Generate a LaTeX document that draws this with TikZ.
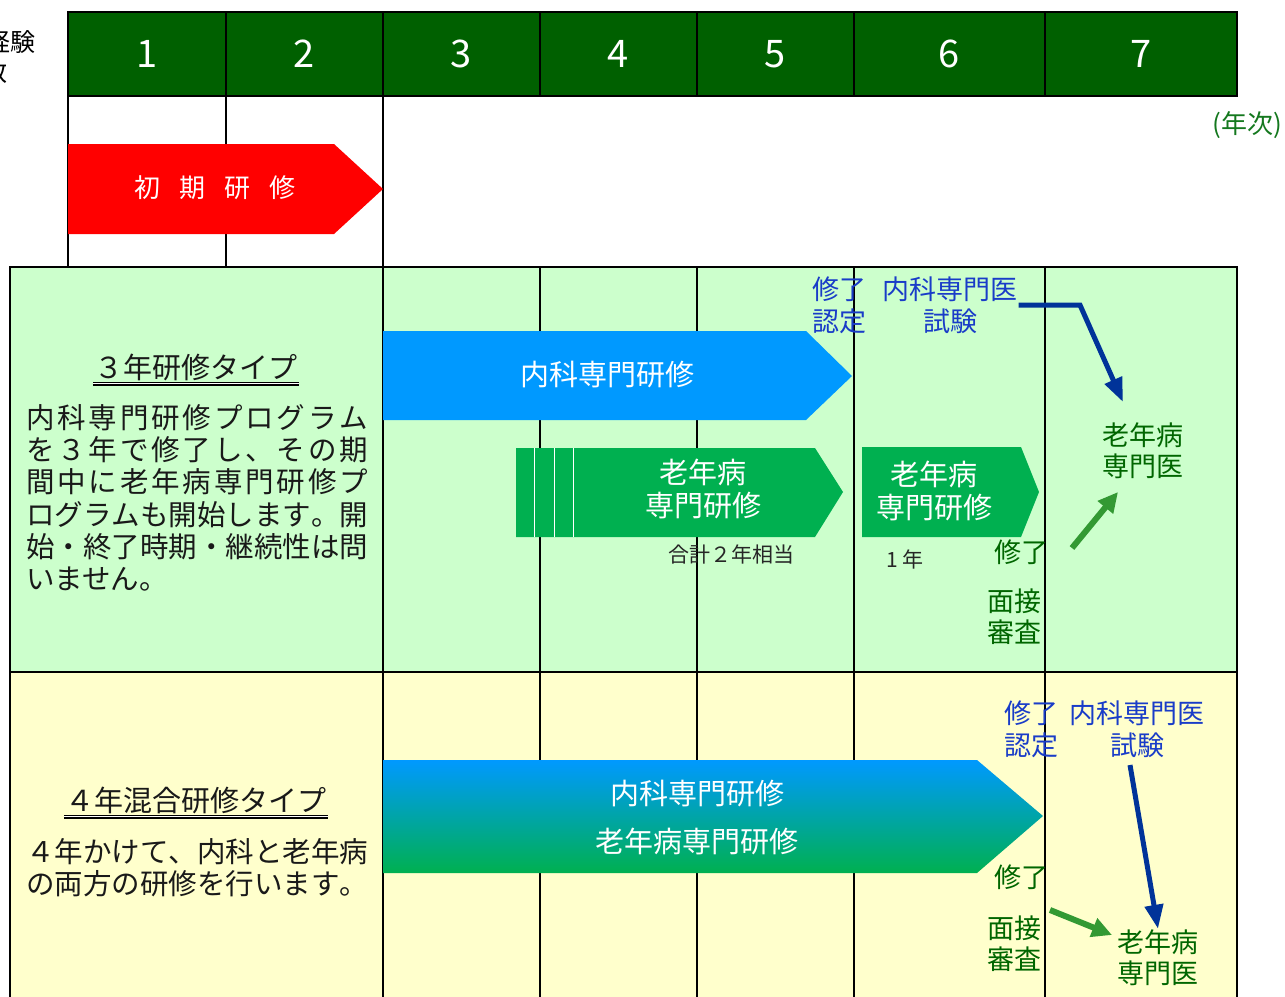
\documentclass[tikz,border=0pt]{standalone}
\usepackage{fontspec}
\setmainfont{Noto Sans CJK JP}
\usetikzlibrary{arrows.meta, positioning}

\definecolor{yeargreen}{RGB}{0,96,0}
\definecolor{initred}{RGB}{255,0,0}
\definecolor{typeAfill}{RGB}{204,255,204}
\definecolor{typeBfill}{RGB}{255,255,204}
\definecolor{naikablue}{RGB}{0,153,255}
\definecolor{ronengreen}{RGB}{0,176,80}
\definecolor{labelblue}{RGB}{25,60,200}
\definecolor{navyarrow}{RGB}{0,51,153}
\definecolor{labelgreen}{RGB}{0,102,0}
\definecolor{passgreen}{RGB}{51,153,51}
\definecolor{nenjigreen}{RGB}{20,120,30}

% justified lines: glue between the characters
\def\spreadline#1#2\endspread{#1\ifx\relax#2\relax\else\hfil\spreadline#2\endspread\fi}
\newcommand{\justline}[1]{\makebox[342pt][s]{\spreadline#1\endspread}}

\tikzset{
  yearnum/.style = {text=white, font=\fontsize{38}{40}\selectfont},
  arrowtext/.style = {text=white, align=center, font=\fontsize{29}{33}\selectfont},
  bluelbl/.style = {text=labelblue, align=center, font=\fontsize{27}{32}\selectfont},
  greenlbl/.style = {text=labelgreen, align=center, font=\fontsize{27}{31}\selectfont},
  smalllbl/.style = {text=black!85, font=\fontsize{21}{23}\selectfont},
  titlelbl/.style = {text=black!90, font=\fontsize{29}{32}\selectfont},
  bodytext/.style = {text=black!90, align=left, font=\fontsize{28.5}{32.3}\selectfont},
  navyline/.style = {draw=navyarrow, line width=5pt, -{Triangle[length=24pt, width=18pt]}},
  passline/.style = {draw=passgreen, line width=6pt, -{Triangle[length=20pt, width=19pt]}}
}

\begin{document}
\begin{tikzpicture}[x=1pt, y=-1pt, line width=2.4pt, every node/.style={inner sep=0pt}]

    \useasboundingbox[fill=white] (0,0) rectangle (1285,996);

    % year header
    \foreach \xa / \xb / \yr in { 68/226/1, 226/383/2, 383/540/3, 540/697/4, 697/854/5, 854/1045/6, 1045/1237/7 } {
        \draw [fill=yeargreen] (\xa,12) rectangle (\xb,96);
        \node [yearnum] (year\yr) at ({(\xa+\xb)/2},54) {\yr};
    }
    \node [anchor=east, font=\fontsize{25}{28}\selectfont] (keiken) at (37,42) {経験};
    \node [anchor=east, font=\fontsize{25}{28}\selectfont] (nensu) at (9,72) {数};
    \node [anchor=east, text=nenjigreen, font=\fontsize{26}{28}\selectfont] (nenji) at (1283,125) {(年次)};

    % the two program bands
    \draw [fill=typeAfill] (10,267) rectangle (1237,672);
    \draw [fill=typeBfill] (10,672) rectangle (1237,1010);
    \foreach \x in {68, 226, 383}
        \draw (\x,96) -- (\x,267);
    \foreach \x in {383, 540, 697, 854, 1045}
        \draw (\x,267) -- (\x,1010);

    % arrows of the schedule
    \fill [initred] (68,144) -- (334,144) -- (383,189) -- (334,234) -- (68,234) -- cycle;
    \node [arrowtext, font=\fontsize{26}{30}\selectfont] (shoki) at (215,188) {初\hspace{.72em}期\hspace{.72em}研\hspace{.72em}修};

    \fill [naikablue] (383,331) -- (806,331) -- (852,376) -- (806,420) -- (383,420) -- cycle;
    \node [arrowtext] (naikaA) at (607,375) {内科専門研修};

    \fill [ronengreen] (516,448) -- (815,448) -- (843,492) -- (815,537) -- (516,537) -- cycle;
    \foreach \x in {534, 554, 573}
        \draw [white, line width=1pt] (\x,448) -- (\x,537);
    \node [arrowtext] (ronenA) at (703,489) {老年病\\専門研修};

    \fill [ronengreen] (862,447) -- (1021,447) -- (1039,492) -- (1021,537) -- (862,537) -- cycle;
    \node [arrowtext] (ronenA2) at (934,491) {老年病\\専門研修};

    \shade [top color=naikablue, bottom color=ronengreen] (383,760) -- (977,760) -- (1043,816) -- (977,873) -- (383,873) -- cycle;
    \node [arrowtext, font=\fontsize{29}{48}\selectfont] (mixedB) at (697,818) {内科専門研修\\老年病専門研修};

    % three-year type
    \node [titlelbl] (typeA) at (196,367) {３年研修タイプ};
    \draw [double, double distance=1.5pt, line width=1.4pt] ([yshift=-2pt]typeA.south west) -- ([yshift=-2pt]typeA.south east);
    \node [bodytext, anchor=north west] (descA) at (25,403) {\justline{内科専門研修プログラム}\\\justline{を ３ 年で修了し、その期}\\\justline{間中に老年病専門研修プ}\\\justline{ログラムも開始します。開}\\\justline{始・終了時期・継続性は問}\\いません。};

    \node [smalllbl] (goukei) at (731,554) {合計２年相当};
    \node [smalllbl] (ichinen) at (905,559) {1 年};
    \node [bluelbl] (ninteiA) at (839,305) {修了\\認定};
    \node [bluelbl] (shikenA) at (950,305) {内科専門医\\試験};
    \node [greenlbl] (senmonA) at (1143,451) {老年病\\専門医};
    \node [greenlbl] (shuryoA) at (1021,552) {修了};
    \node [greenlbl] (mensetsuA) at (1014,617) {面接\\審査};

    \coordinate (bendA) at (1080,305);
    \coordinate (tipA) at (1123,402);
    \coordinate (passA) at (1072,548);
    \coordinate (passtipA) at (1118,492);
    \draw [navyline] (shikenA.east) -- (bendA) -- (tipA);
    \draw [passline] (passA) -- (passtipA);

    % four-year mixed type
    \node [titlelbl] (typeB) at (196,800) {４年混合研修タイプ};
    \draw [double, double distance=1.5pt, line width=1.4pt] ([yshift=-2pt]typeB.south west) -- ([yshift=-2pt]typeB.south east);
    \node [bodytext, anchor=north west] (descB) at (25,837) {\justline{４年かけて、内科と老年病}\\\justline{の両方の研修を行います。}};

    \node [bluelbl] (ninteiB) at (1031,729) {修了\\認定};
    \node [bluelbl] (shikenB) at (1137,729) {内科専門医\\試験};
    \node [greenlbl] (shuryoB) at (1021,877) {修了};
    \node [greenlbl] (mensetsuB) at (1014,944) {面接\\審査};
    \node [greenlbl] (senmonB) at (1158,958) {老年病\\専門医};

    \coordinate (fromB) at (1130,765);
    \coordinate (passB) at (1050,910);
    \coordinate (passtipB) at (1112,935);
    \draw [navyline] (fromB) -- (senmonB.north);
    \draw [passline] (passB) -- (passtipB);

\end{tikzpicture}
\end{document}
